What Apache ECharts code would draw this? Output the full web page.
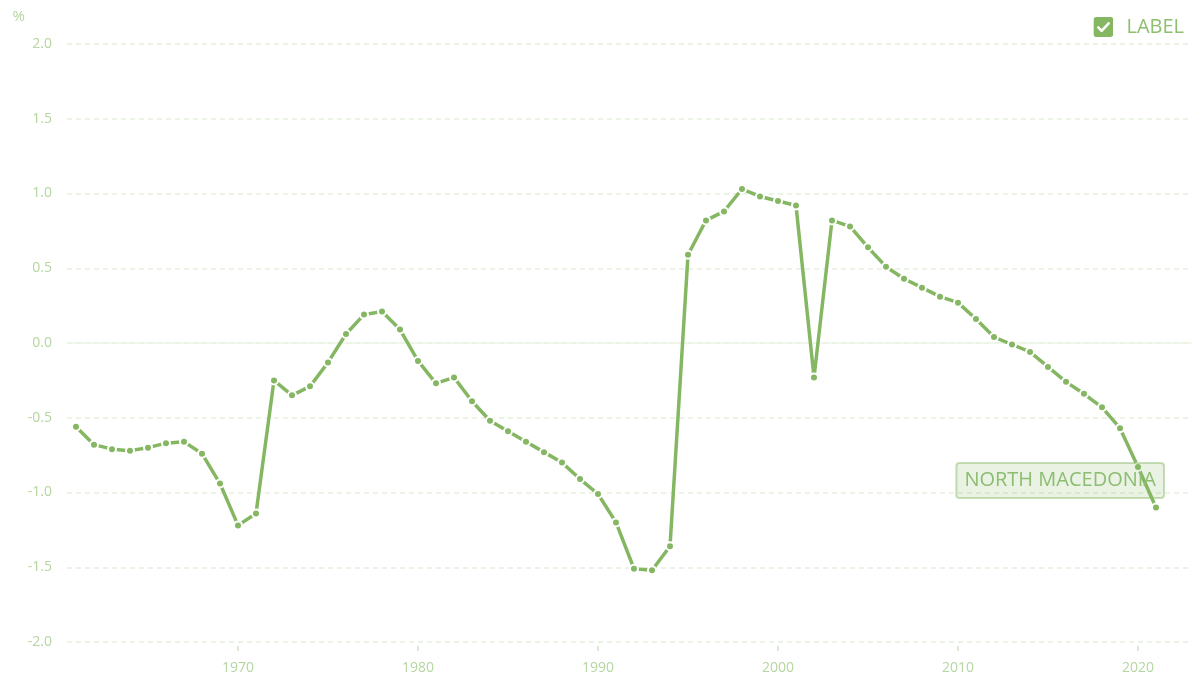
<!DOCTYPE html>
<html>
<head>
<meta charset="utf-8">
<script src="https://cdn.jsdelivr.net/npm/echarts@6/dist/echarts.min.js"></script>
<style>
html,body{margin:0;padding:0;background:#fff;}
#chart{width:1192px;height:679px;}
</style>
</head>
<body>
<div id="chart"></div>
<script>
// ---- data ----
var years = [1961,1962,1963,1964,1965,1966,1967,1968,1969,1970,
             1971,1972,1973,1974,1975,1976,1977,1978,1979,1980,
             1981,1982,1983,1984,1985,1986,1987,1988,1989,1990,
             1991,1992,1993,1994,1995,1996,1997,1998,1999,2000,
             2001,2002,2003,2004,2005,2006,2007,2008,2009,2010,
             2011,2012,2013,2014,2015,2016,2017,2018,2019,2020,2021];
var values = [-0.56,-0.68,-0.71,-0.72,-0.70,-0.67,-0.66,-0.74,-0.94,-1.22,
              -1.14,-0.25,-0.35,-0.29,-0.13,0.06,0.19,0.21,0.09,-0.12,
              -0.27,-0.23,-0.39,-0.52,-0.59,-0.66,-0.73,-0.80,-0.91,-1.01,
              -1.20,-1.51,-1.52,-1.36,0.59,0.82,0.88,1.03,0.98,0.95,
              0.92,-0.23,0.82,0.78,0.64,0.51,0.43,0.37,0.31,0.27,
              0.16,0.04,-0.01,-0.06,-0.16,-0.26,-0.34,-0.43,-0.57,-0.83,-1.10];
var xTickLabels = [1970,1980,1990,2000,2010,2020];
var seriesName = 'LABEL';
var countryName = 'NORTH MACEDONIA';
var yUnit = '%';

// ---- styles ----
var green = '#85b763';
var paleText = '#b5d6a0';
var gridColor = '#e5f0dc';

var checkSvg = "<svg xmlns='http://www.w3.org/2000/svg' width='40' height='40' viewBox='0 0 20 20'>" +
  "<rect x='0' y='0' width='20' height='20' rx='3' ry='3' fill='" + green + "'/>" +
  "<path d='M4.8 10.4l3.4 3.5L15.2 6.3' stroke='#fff' stroke-width='2.6' fill='none' stroke-linecap='round' stroke-linejoin='round'/></svg>";
var checkIcon = 'image://data:image/svg+xml;charset=utf-8,' + encodeURIComponent(checkSvg);

var data = years.map(function (y, i) {
  var item = { value: [y, values[i]] };
  if (i === years.length - 1) {
    item.label = {
      show: true,
      formatter: countryName,
      position: 'left',
      distance: 0,
      offset: [13, -27],
      color: '#8cbd71',
      fontFamily: 'Open Sans',
      fontSize: 20,
      lineHeight: 23,
      padding: [6, 8, 6, 8],
      backgroundColor: 'rgba(133,183,99,0.18)',
      borderColor: 'rgba(133,183,99,0.45)',
      borderWidth: 1,
      borderRadius: 3
    };
  }
  return item;
});

var chart = echarts.init(document.getElementById('chart'), null, { renderer: 'canvas' });
chart.setOption({
  animation: false,
  backgroundColor: '#fff',
  textStyle: { fontFamily: 'Open Sans' },
  legend: {
    data: [{ name: seriesName, icon: checkIcon }],
    right: 3,
    top: 12,
    itemWidth: 20,
    itemHeight: 20,
    textStyle: { color: '#8cbf6e', fontSize: 20, fontFamily: 'Open Sans', padding: [0, 0, 0, 8] }
  },
  grid: { left: 67, right: 0, top: 44, bottom: 37, containLabel: false },
  xAxis: {
    type: 'value',
    min: 1960.5,
    max: 2023,
    offset: 4,
    axisLine: { show: true, onZero: false, lineStyle: { color: 'rgba(0,0,0,0)' } },
    axisTick: { show: true, inside: false, length: 5, lineStyle: { color: '#cfe3c1', width: 1.5 }, customValues: xTickLabels },
    axisLabel: { color: paleText, fontSize: 14, margin: 15, customValues: xTickLabels, formatter: function (v) { return String(v); } },
    splitLine: { show: false }
  },
  yAxis: {
    type: 'value',
    min: -2,
    max: 2,
    interval: 0.5,
    name: yUnit,
    nameLocation: 'end',
    nameGap: 27,
    nameTextStyle: { color: paleText, fontSize: 15, align: 'right', verticalAlign: 'middle', padding: [0, 42, 0, 0] },
    axisLine: { show: false },
    axisTick: { show: false },
    axisLabel: { color: paleText, fontSize: 14, margin: 15, formatter: function (v) { return v.toFixed(1); } },
    splitLine: { show: true, lineStyle: { color: gridColor, type: [5, 4], width: 1.5 } }
  },
  series: [{
    name: seriesName,
    type: 'line',
    data: data,
    z: 5,
    color: green,
    lineStyle: { color: green, width: 3.5 },
    symbol: 'circle',
    symbolSize: 8,
    showSymbol: true,
    itemStyle: { color: green, borderColor: '#fff', borderWidth: 2 },
    markLine: {
      silent: true,
      symbol: 'none',
      z: 1,
      label: { show: false },
      lineStyle: { color: '#ecf4e6', type: 'solid', width: 1.5 },
      data: [{ yAxis: 0 }]
    }
  }]
});
</script>
</body>
</html>
